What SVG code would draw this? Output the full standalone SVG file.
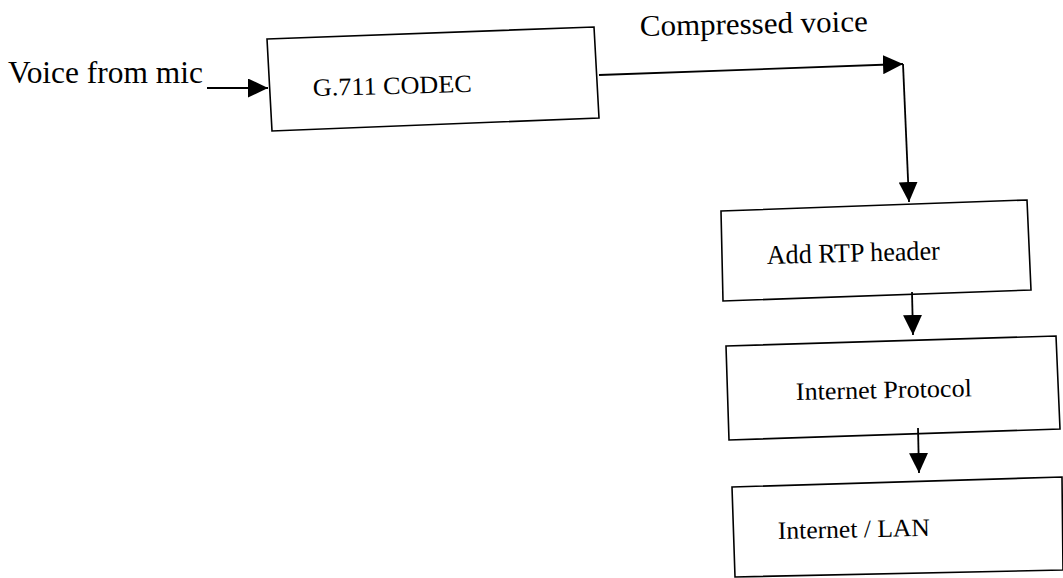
<svg xmlns="http://www.w3.org/2000/svg" width="1063" height="578" viewBox="0 0 1063 578">
  <style>
    .box { fill: #ffffff; stroke: #000000; stroke-width: 1.6; stroke-linejoin: miter; }
    .wire { fill: none; stroke: #000000; stroke-width: 1.8; }
    .lbl { font-family: "Liberation Serif", "Times New Roman", serif; fill: #000000; }
  </style>
  <defs>
    <marker id="head" markerUnits="userSpaceOnUse" viewBox="0 0 20 19" markerWidth="20" markerHeight="19" refX="20" refY="9.5" orient="auto">
      <path d="M0,0 L20,9.5 L0,19 Z" fill="#000000"/>
    </marker>
  </defs>

  <rect width="1063" height="578" fill="#ffffff"/>

  <!-- free-standing labels -->
  <text class="lbl" x="8" y="83" font-size="31" textLength="195" lengthAdjust="spacingAndGlyphs">Voice from mic</text>
  <text class="lbl" x="640" y="36" font-size="30" textLength="228" lengthAdjust="spacingAndGlyphs" transform="rotate(-1.2 640 36)">Compressed voice</text>

  <g id="codec">
    <polygon class="box" points="267,39 594,27 599,118 272,131"/>
    <text class="lbl" x="313" y="96" font-size="25" textLength="159" lengthAdjust="spacingAndGlyphs" transform="rotate(-1.5 313 96)">G.711 CODEC</text>
  </g>

  <g id="rtp">
    <polygon class="box" points="721,211 1027,200 1031,290 723,301"/>
    <text class="lbl" x="767" y="264" font-size="27" textLength="173" lengthAdjust="spacingAndGlyphs" transform="rotate(-1.5 767 264)">Add RTP header</text>
  </g>

  <g id="ip">
    <polygon class="box" points="726,346 1056,336 1060,429 729,440"/>
    <text class="lbl" x="796" y="400" font-size="25" textLength="176" lengthAdjust="spacingAndGlyphs" transform="rotate(-1.2 796 400)">Internet Protocol</text>
  </g>

  <g id="lan">
    <polygon class="box" points="732,487 1062,477 1063,570 735,577"/>
    <text class="lbl" x="778" y="539" font-size="25" textLength="152" lengthAdjust="spacingAndGlyphs" transform="rotate(-1.2 778 539)">Internet / LAN</text>
  </g>

  <g id="connectors">
    <line class="wire" x1="207" y1="88" x2="268" y2="88" marker-end="url(#head)"/>
    <line class="wire" x1="599" y1="75" x2="903" y2="64" marker-end="url(#head)"/>
    <line class="wire" x1="903" y1="64" x2="909" y2="202" marker-end="url(#head)"/>
    <line class="wire" x1="912" y1="292" x2="913" y2="335" marker-end="url(#head)"/>
    <line class="wire" x1="918" y1="428" x2="919" y2="473" marker-end="url(#head)"/>
  </g>
</svg>
